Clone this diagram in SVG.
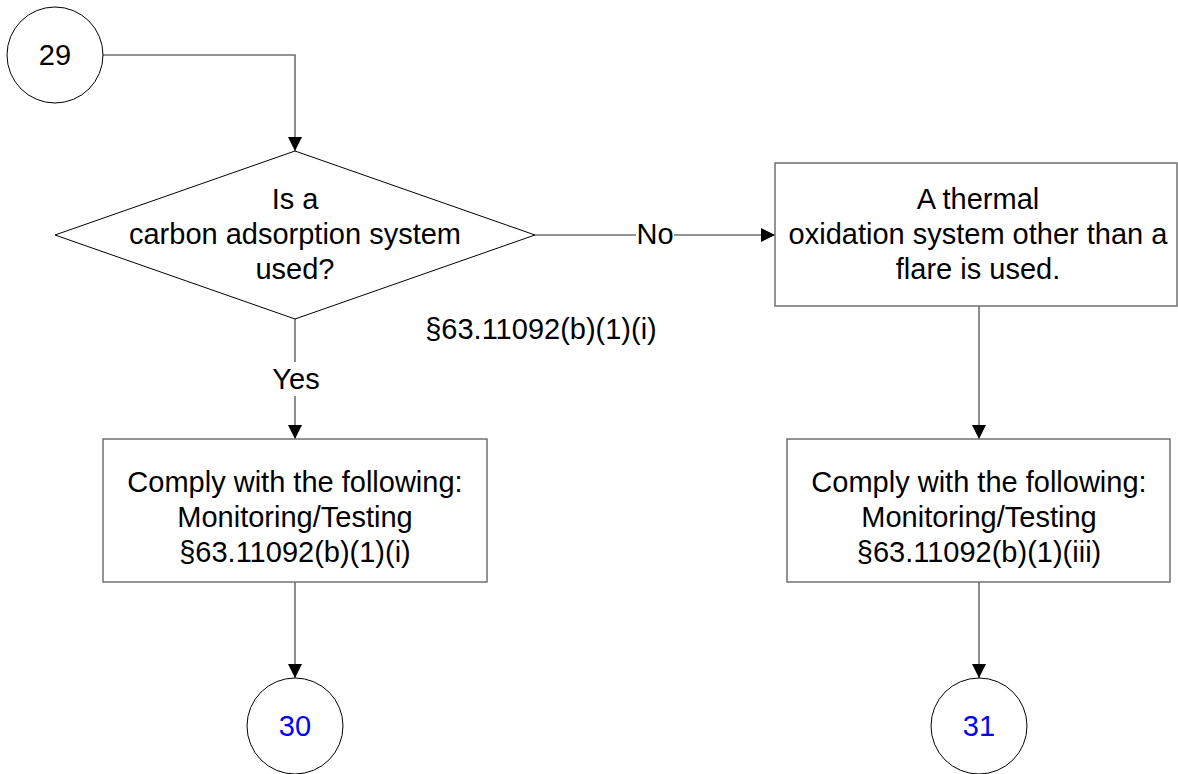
<svg xmlns="http://www.w3.org/2000/svg" width="1178" height="774" viewBox="0 0 1178 774">
<style>
text{font-family:"Liberation Sans",Arial,sans-serif;font-size:29px;fill:#000;text-anchor:middle}
.blue{fill:#0000ff}
.circ{fill:#fff;stroke:#000;stroke-width:1}
.dia{fill:#fff;stroke:#000;stroke-width:1}
.box{fill:#fff;stroke:#707070;stroke-width:1.5}
.conn{fill:none;stroke:#707070;stroke-width:1.6}
.lbl{fill:#fff;stroke:none}
</style>
<defs>
<marker id="arr" viewBox="0 0 14 14" refX="14" refY="7" markerWidth="14" markerHeight="14" markerUnits="userSpaceOnUse" orient="auto">
<path d="M0,0 L14,7 L0,14 Z" fill="#000"/>
</marker>
</defs>
<rect width="1178" height="774" fill="#fff"/>
<g id="connectors">
<path class="conn" d="M103,55 H295 V151" marker-end="url(#arr)"/>
<path class="conn" d="M535,235 H775" marker-end="url(#arr)"/>
<path class="conn" d="M295,319 V439" marker-end="url(#arr)"/>
<path class="conn" d="M979,306 V439" marker-end="url(#arr)"/>
<path class="conn" d="M295,582 V678" marker-end="url(#arr)"/>
<path class="conn" d="M979,582 V678" marker-end="url(#arr)"/>
<rect class="lbl" x="636" y="220" width="38" height="30"/>
<text x="655" y="244">No</text>
<rect class="lbl" x="270" y="362" width="52" height="34"/>
<text x="296" y="389">Yes</text>
<text x="541" y="339">§63.11092(b)(1)(i)</text>
</g>
<g id="n29">
<circle class="circ" cx="55" cy="55" r="48"/>
<text x="55" y="65">29</text>
</g>
<g id="decision">
<path class="dia" d="M295,151 L535,235 L295,319 L55,235 Z"/>
<text x="295" y="209">Is a</text>
<text x="295" y="244">carbon adsorption system</text>
<text x="295" y="279">used?</text>
</g>
<g id="thermal">
<rect class="box" x="775" y="163" width="402" height="143"/>
<text x="978" y="209">A thermal</text>
<text x="978" y="244">oxidation system other than a</text>
<text x="978" y="279">flare is used.</text>
</g>
<g id="comply1">
<rect class="box" x="103" y="439" width="384" height="143"/>
<text x="295" y="492">Comply with the following:</text>
<text x="295" y="527">Monitoring/Testing</text>
<text x="295" y="562">§63.11092(b)(1)(i)</text>
</g>
<g id="comply3">
<rect class="box" x="787" y="439" width="383" height="143"/>
<text x="979" y="492">Comply with the following:</text>
<text x="979" y="527">Monitoring/Testing</text>
<text x="979" y="562">§63.11092(b)(1)(iii)</text>
</g>
<g id="n30">
<circle class="circ" cx="295" cy="726" r="48"/>
<text class="blue" x="295" y="736">30</text>
</g>
<g id="n31">
<circle class="circ" cx="979" cy="726" r="48"/>
<text class="blue" x="979" y="736">31</text>
</g>
</svg>
